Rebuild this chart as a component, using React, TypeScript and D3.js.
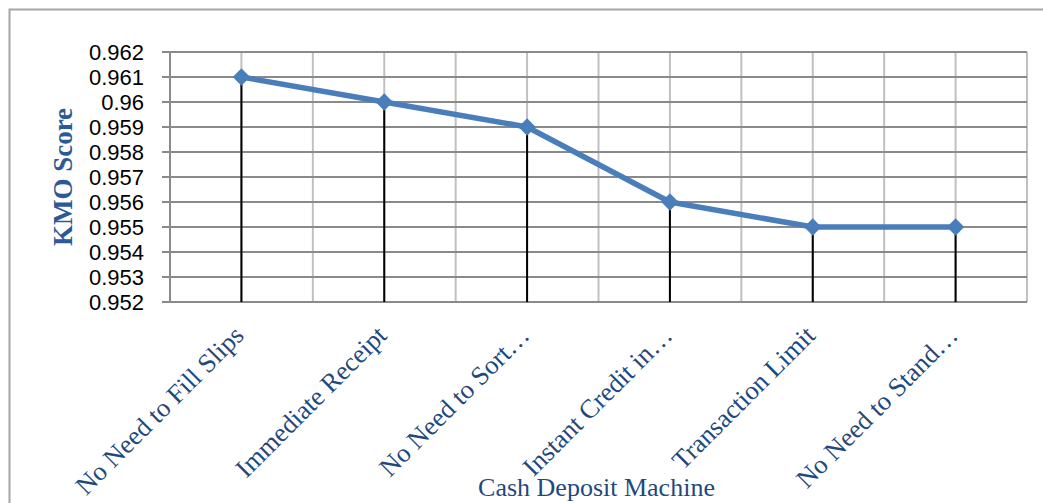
import { useEffect, useRef } from "react";
import * as d3 from "d3";

// data
const categories = [
  "No Need to Fill Slips",
  "Immediate Receipt",
  "No Need to Sort…",
  "Instant Credit in…",
  "Transaction Limit",
  "No Need to Stand…",
];
const kmoScores = [0.961, 0.96, 0.959, 0.956, 0.955, 0.955];
const yTicks = [0.952, 0.953, 0.954, 0.955, 0.956, 0.957, 0.958, 0.959, 0.96, 0.961, 0.962];
const xTitle = "Cash Deposit Machine";
const yTitle = "KMO Score";

export default function App() {
  const chart = useRef<SVGSVGElement>(null);

  useEffect(() => {
    const svg = d3.select(chart.current);
    svg.selectAll("*").remove();

    const W = 1043, H = 503;
    const margin = { top: 52, right: 16, bottom: 201, left: 170 };
    const lineColor = "#4a7ebb";

    const x = d3.scaleBand<string>()
      .domain(categories)
      .range([margin.left, W - margin.right]);
    const y = d3.scaleLinear()
      .domain([0.952, 0.962])
      .range([H - margin.bottom, margin.top]);

    const cx = (d: string) => (x(d) as number) + x.bandwidth() / 2;

    // outer chart border
    svg.append("rect")
      .attr("x", 9.5).attr("y", 9.5)
      .attr("width", W + 20).attr("height", H + 20)
      .attr("fill", "none").attr("stroke", "#a6a6a6").attr("stroke-width", 2);

    // vertical gridlines, at band edges and centres
    const half = x.bandwidth() / 2;
    const vLines = d3.range(categories.length * 2 + 1).map(i => margin.left + i * half);
    svg.append("g").selectAll("line").data(vLines).join("line")
      .attr("x1", d => d).attr("x2", d => d)
      .attr("y1", y(0.962)).attr("y2", y(0.952))
      .attr("stroke", "#c0c0c0").attr("stroke-width", 2);

    // horizontal gridlines
    svg.append("g").selectAll("line").data(yTicks).join("line")
      .attr("x1", margin.left - 8).attr("x2", W - margin.right)
      .attr("y1", d => y(d)).attr("y2", d => y(d))
      .attr("stroke", "#8a8a8a").attr("stroke-width", 2);

    // left axis line
    svg.append("line")
      .attr("x1", margin.left).attr("x2", margin.left)
      .attr("y1", y(0.962)).attr("y2", y(0.952))
      .attr("stroke", "#8a8a8a").attr("stroke-width", 2);

    // y tick labels
    svg.append("g").selectAll("text").data(yTicks).join("text")
      .attr("x", 144).attr("y", d => y(d))
      .attr("dy", "0.36em")
      .attr("text-anchor", "end")
      .attr("font-family", "'Liberation Sans', Arial, sans-serif")
      .attr("font-size", 22)
      .attr("fill", "#000")
      .text(d => String(+d.toFixed(3)));

    // drop lines
    svg.append("g").selectAll("line").data(categories).join("line")
      .attr("x1", d => cx(d)).attr("x2", d => cx(d))
      .attr("y1", (d, i) => y(kmoScores[i])).attr("y2", y(0.952))
      .attr("stroke", "#000").attr("stroke-width", 2);

    // series line
    const line = d3.line<number>()
      .x((d, i) => cx(categories[i]))
      .y(d => y(d));
    svg.append("path")
      .datum(kmoScores)
      .attr("d", line)
      .attr("fill", "none")
      .attr("stroke", lineColor)
      .attr("stroke-width", 5.5)
      .attr("stroke-linejoin", "round");

    // diamond markers
    const diamond = d3.symbol().type(d3.symbolSquare).size(150);
    svg.append("g").selectAll("path").data(kmoScores).join("path")
      .attr("d", diamond)
      .attr("transform", (d, i) => `translate(${cx(categories[i])},${y(d)}) rotate(45)`)
      .attr("fill", lineColor);

    // x category labels
    svg.append("g").selectAll("text").data(categories).join("text")
      .attr("transform", d => `translate(${cx(d) + 4},${y(0.952) + 35}) rotate(-45)`)
      .attr("text-anchor", "end")
      .attr("font-family", "'Liberation Serif', 'Times New Roman', serif")
      .attr("font-size", 26.5)
      .attr("fill", "#1f497d")
      .text(d => d);

    // axis titles
    svg.append("text")
      .attr("x", (margin.left + W - margin.right) / 2 - 2)
      .attr("y", 496)
      .attr("text-anchor", "middle")
      .attr("font-family", "'Liberation Serif', 'Times New Roman', serif")
      .attr("font-size", 26)
      .attr("fill", "#1f497d")
      .text(xTitle);

    svg.append("text")
      .attr("transform", "translate(72,177) rotate(-90)")
      .attr("text-anchor", "middle")
      .attr("font-family", "'Liberation Serif', 'Times New Roman', serif")
      .attr("font-weight", "bold")
      .attr("font-size", 27)
      .attr("fill", "#2c5a96")
      .text(yTitle);
  }, []);

  return (
    <svg
      ref={chart}
      width={1043}
      height={503}
      style={{ position: "absolute", left: 0, top: 0, background: "#fff" }}
    />
  );
}
